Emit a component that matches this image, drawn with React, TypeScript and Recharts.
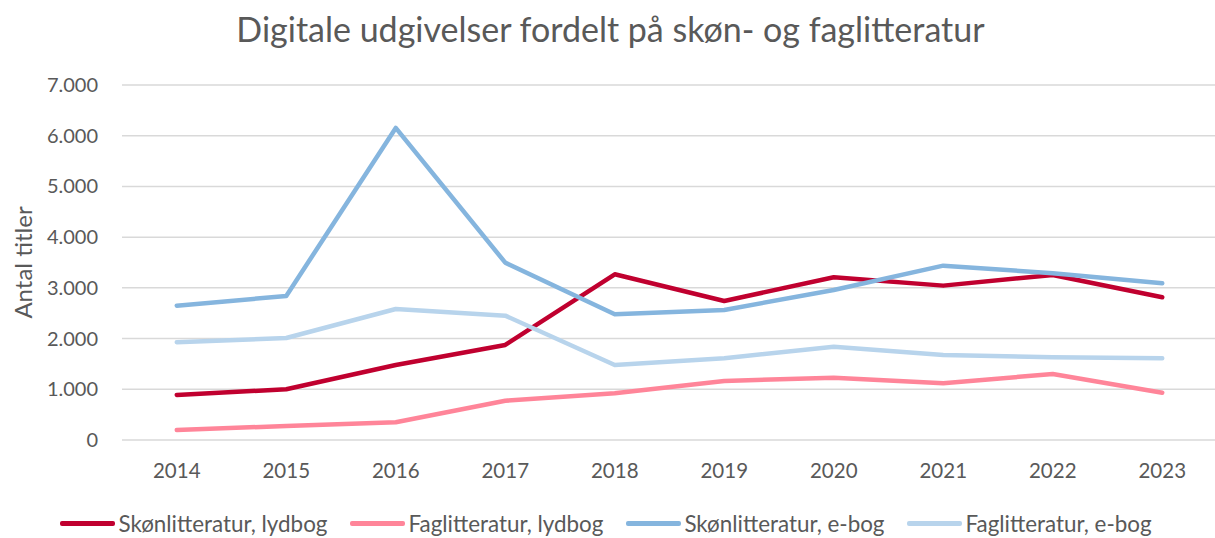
import React from 'react';
import { LineChart, Line, XAxis, YAxis, CartesianGrid, Legend, Label } from 'recharts';

const years = ['2014', '2015', '2016', '2017', '2018', '2019', '2020', '2021', '2022', '2023'];
const skonLydbog = [888, 1000, 1479, 1874, 3268, 2742, 3209, 3044, 3254, 2815];
const fagLydbog = [197, 276, 349, 775, 921, 1164, 1229, 1118, 1302, 933];
const skonEbog = [2649, 2840, 6154, 3497, 2479, 2564, 2959, 3438, 3288, 3090];
const fagEbog = [1927, 2012, 2584, 2452, 1479, 1611, 1840, 1677, 1631, 1611];
const yTicks = [0, 1000, 2000, 3000, 4000, 5000, 6000, 7000];

const seriesNames = ['Skønlitteratur, lydbog', 'Faglitteratur, lydbog', 'Skønlitteratur, e-bog', 'Faglitteratur, e-bog'];
const seriesColors = ['#C0002F', '#FF8599', '#85B5DE', '#B8D4EC'];

const data = years.map((y, i) => ({
  year: y,
  s0: skonLydbog[i],
  s1: fagLydbog[i],
  s2: skonEbog[i],
  s3: fagEbog[i],
}));

const FONT = 'Lato, "Open Sans", sans-serif';
const TXT = '#595959';

const fmt = (v: number) => String(v).replace(/\B(?=(\d{3})+(?!\d))/g, '.');

const LegendContent = (props: any) => {
  const payload = [...(props.payload || [])].sort(
    (a: any, b: any) => seriesNames.indexOf(a.value) - seriesNames.indexOf(b.value)
  );
  return (
    <div
      style={{
        display: 'flex',
        justifyContent: 'center',
        alignItems: 'center',
        height: 30,
        fontFamily: FONT,
        fontSize: 22.4,
        color: TXT,
        paddingRight: 5,
      }}
    >
      {payload.map((p: any, i: number) => (
        <div key={i} style={{ display: 'flex', alignItems: 'center', marginRight: i < payload.length - 1 ? 23 : 0 }}>
          <div style={{ width: 55, height: 5, background: p.color, borderRadius: 2, marginRight: 3 }} />
          <span style={{ whiteSpace: 'nowrap' }}>{p.value}</span>
        </div>
      ))}
    </div>
  );
};

const XTick = (props: any) => {
  const { x, y, payload } = props;
  return (
    <text x={x} y={y} dy={30} textAnchor="middle" fill={TXT} fontSize={20.5} fontFamily={FONT}>
      {payload.value}
    </text>
  );
};

const YTick = (props: any) => {
  const { x, y, payload } = props;
  return (
    <text x={x} y={y} dx={-16} dy={7} textAnchor="end" fill={TXT} fontSize={20} fontFamily={FONT}>
      {fmt(payload.value)}
    </text>
  );
};

const YLabel = (props: any) => {
  const vb = props.viewBox || { y: 85, height: 355 };
  const cx = 22;
  const cy = vb.y + vb.height / 2;
  return (
    <text
      x={cx}
      y={cy}
      transform={`rotate(-90 ${cx} ${cy})`}
      textAnchor="middle"
      dominantBaseline="central"
      fill={TXT}
      fontSize={24}
      fontFamily={FONT}
    >
      Antal titler
    </text>
  );
};

export default function App() {
  return (
    <div
      style={{
        position: 'fixed',
        left: 0,
        top: 0,
        width: 1215,
        height: 538,
        overflow: 'hidden',
        background: '#fff',
        fontFamily: FONT,
      }}
    >
      <div
        style={{
          position: 'absolute',
          left: 0,
          top: 9,
          width: 1221,
          textAlign: 'center',
          fontSize: 34,
          color: TXT,
          fontFamily: FONT,
          lineHeight: '40px',
          whiteSpace: 'nowrap',
        }}
      >
        Digitale udgivelser fordelt på skøn- og faglitteratur
      </div>
      <div style={{ position: 'absolute', left: 0, top: 0 }}>
        <LineChart width={1217} height={538} data={data} margin={{ top: 85, right: 0, bottom: 0, left: 0 }}>
          <CartesianGrid vertical={false} stroke="#D9D9D9" strokeWidth={1.5} />
          <XAxis
            dataKey="year"
            axisLine={false}
            tickLine={false}
            height={68}
            padding={{ left: 54.75, right: 54.75 }}
            tick={<XTick />}
            interval={0}
          />
          <YAxis
            domain={[0, 7000]}
            ticks={yTicks}
            axisLine={false}
            tickLine={false}
            width={122}
            tick={<YTick />}
            interval={0}
          >
            <Label content={<YLabel />} />
          </YAxis>
          <Legend verticalAlign="bottom" content={<LegendContent />} />
          {['s0', 's1', 's2', 's3'].map((k, i) => (
            <Line
              key={k}
              type="linear"
              dataKey={k}
              name={seriesNames[i]}
              stroke={seriesColors[i]}
              strokeWidth={4.5}
              strokeLinecap="round"
              strokeLinejoin="round"
              dot={false}
              activeDot={false}
              isAnimationActive={false}
            />
          ))}
        </LineChart>
      </div>
    </div>
  );
}
